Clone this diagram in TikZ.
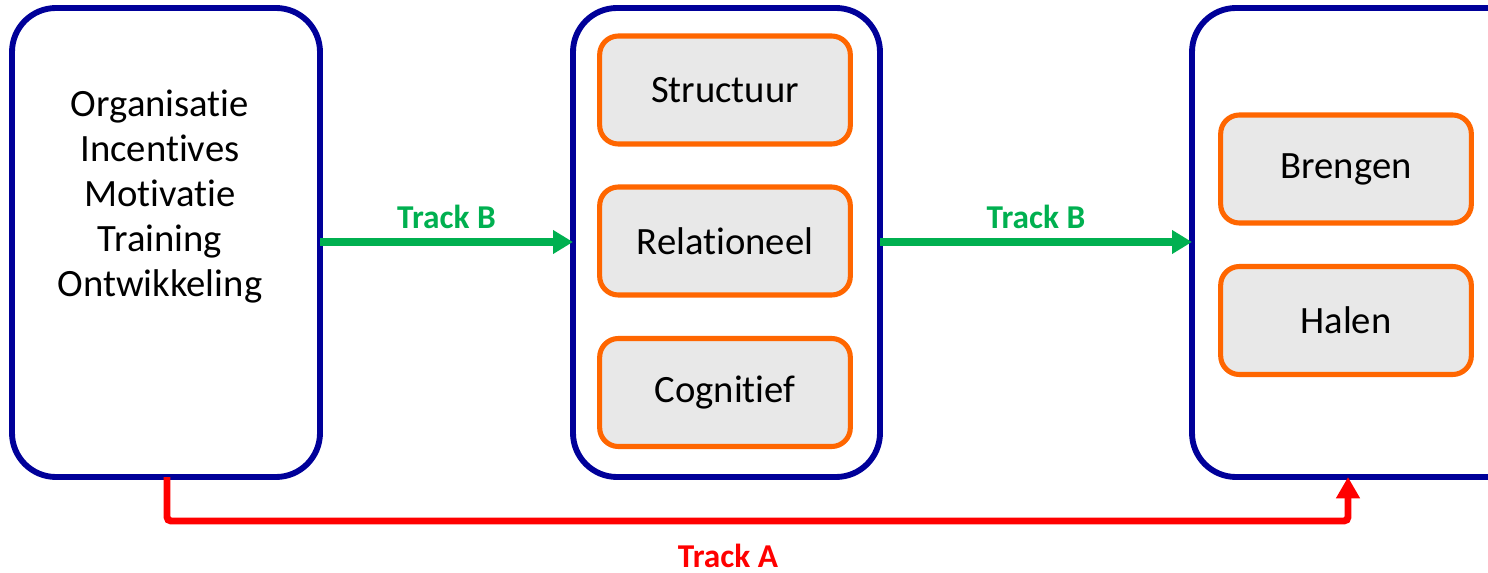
\documentclass[tikz,border=0pt]{standalone}
\usepackage{fontspec}
\setmainfont{Carlito}[Ligatures=CommonOff]
\usetikzlibrary{arrows.meta}
\definecolor{navy}{RGB}{0,0,153}
\definecolor{orng}{RGB}{255,102,0}
\definecolor{grn}{RGB}{0,176,80}
\definecolor{boxgray}{RGB}{232,232,232}
\begin{document}
\begin{tikzpicture}[x=0.75pt,y=-0.75pt,
  bigbox/.style={draw=navy,line width=4.4pt,rounded corners=33pt,fill=white},
  smallbox/.style={draw=orng,line width=3.8pt,rounded corners=14pt,fill=boxgray,minimum width=188pt,minimum height=81pt,font=\fontsize{29}{35}\selectfont},
  greenarrow/.style={draw=grn,line width=5.5pt,-{Triangle[length=15pt,width=17pt]}},
  redarrow/.style={draw=red,line width=5.2pt,rounded corners=3pt,-{Triangle[length=16pt,width=17pt]}},
  lbl/.style={font=\fontsize{25}{30}\selectfont\bfseries}]
\useasboundingbox (0,0) rectangle (1488,573);
\begin{scope}
\clip (0,0) rectangle (1488,573);
\draw[bigbox] (12,8) rectangle (320,477);
\draw[bigbox] (573,8) rectangle (880,477);
\draw[bigbox] (1192,8) rectangle (1540,477);
\end{scope}
\node[inner sep=0pt,minimum width=231pt,minimum height=351.75pt] (left) at (166,242.5) {};
\node[inner sep=0pt,minimum width=230pt,minimum height=351.75pt] (mid) at (726.5,242.5) {};
\node[inner sep=0pt,minimum width=261pt,minimum height=351.75pt] (right) at (1366,242.5) {};
\node[align=center,font=\fontsize{29}{33.75}\selectfont] (lefttext) at (160,197)
  {Organisatie\\Incentives\\Motivatie\\Training\\Ontwikkeling};
\node[smallbox] (s1) at (725,90) {Structuur};
\node[smallbox] (s2) at (725,241) {Relationeel};
\node[smallbox] (s3) at (725,392.5) {Cognitief};
\node[smallbox] (r1) at (1346,169) {Brengen};
\node[smallbox] (r2) at (1346,320.5) {Halen};
\coordinate (ga1) at (320,242);
\coordinate (gb1) at (573,242);
\coordinate (ga2) at (880,242);
\coordinate (gb2) at (1192,242);
\draw[greenarrow] (ga1) -- node[above=4pt,lbl,text=grn] (tb1) {Track B} (gb1);
\draw[greenarrow] (ga2) -- node[above=4pt,lbl,text=grn] (tb2) {Track B} (gb2);
\coordinate (ra) at (167,477);
\coordinate (rb) at (1348,477);
\draw[redarrow] (ra) -- (167,521) -- (1348,521) -- (rb);
\node[lbl,text=red] (ta) at (728,556) {Track A};
\end{tikzpicture}
\end{document}
